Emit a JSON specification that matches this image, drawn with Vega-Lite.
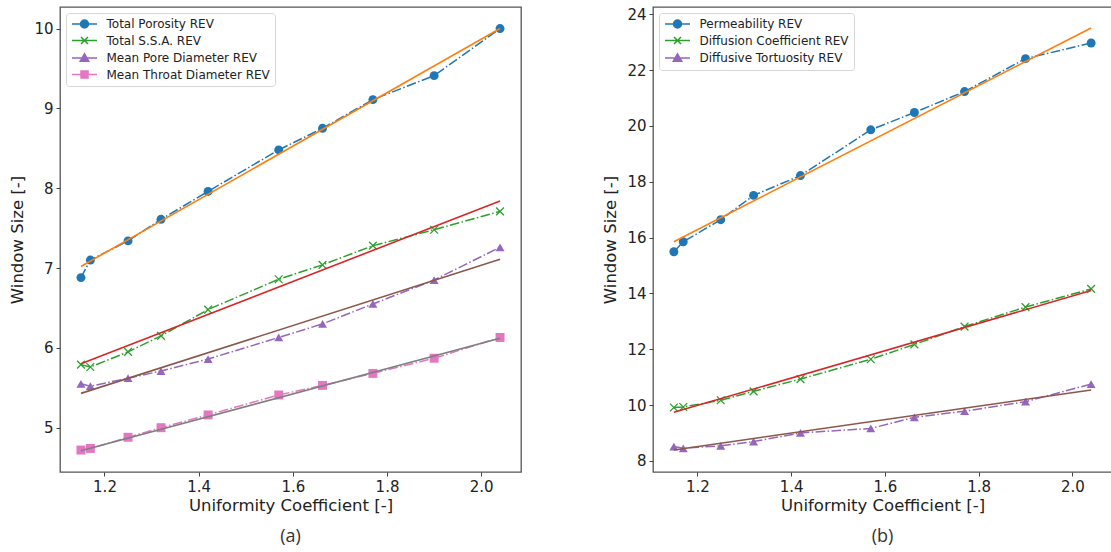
{
  "$schema": "https://vega.github.io/schema/vega-lite/v6.json",
  "background": "white",
  "padding": {"left": 9, "top": 6, "right": 0, "bottom": 0},
  "spacing": 80,
  "resolve": {"scale": {"color": "independent", "shape": "independent", "stroke": "independent"}, "legend": {"color": "independent"}},
  "datasets": {
    "pa": [
      {"series": "Total Porosity REV", "x": 1.15, "y": 6.88},
      {"series": "Total Porosity REV", "x": 1.17, "y": 7.10},
      {"series": "Total Porosity REV", "x": 1.25, "y": 7.34},
      {"series": "Total Porosity REV", "x": 1.32, "y": 7.61},
      {"series": "Total Porosity REV", "x": 1.42, "y": 7.96},
      {"series": "Total Porosity REV", "x": 1.57, "y": 8.48},
      {"series": "Total Porosity REV", "x": 1.663, "y": 8.75},
      {"series": "Total Porosity REV", "x": 1.77, "y": 9.11},
      {"series": "Total Porosity REV", "x": 1.90, "y": 9.41},
      {"series": "Total Porosity REV", "x": 2.04, "y": 10.0},
      {"series": "Total S.S.A. REV", "x": 1.15, "y": 5.79},
      {"series": "Total S.S.A. REV", "x": 1.17, "y": 5.76},
      {"series": "Total S.S.A. REV", "x": 1.25, "y": 5.95},
      {"series": "Total S.S.A. REV", "x": 1.32, "y": 6.15},
      {"series": "Total S.S.A. REV", "x": 1.42, "y": 6.48},
      {"series": "Total S.S.A. REV", "x": 1.57, "y": 6.86},
      {"series": "Total S.S.A. REV", "x": 1.663, "y": 7.04},
      {"series": "Total S.S.A. REV", "x": 1.77, "y": 7.28},
      {"series": "Total S.S.A. REV", "x": 1.90, "y": 7.48},
      {"series": "Total S.S.A. REV", "x": 2.04, "y": 7.71},
      {"series": "Mean Pore Diameter REV", "x": 1.15, "y": 5.55},
      {"series": "Mean Pore Diameter REV", "x": 1.17, "y": 5.52},
      {"series": "Mean Pore Diameter REV", "x": 1.25, "y": 5.62},
      {"series": "Mean Pore Diameter REV", "x": 1.32, "y": 5.71},
      {"series": "Mean Pore Diameter REV", "x": 1.42, "y": 5.86},
      {"series": "Mean Pore Diameter REV", "x": 1.57, "y": 6.13},
      {"series": "Mean Pore Diameter REV", "x": 1.663, "y": 6.30},
      {"series": "Mean Pore Diameter REV", "x": 1.77, "y": 6.55},
      {"series": "Mean Pore Diameter REV", "x": 1.90, "y": 6.85},
      {"series": "Mean Pore Diameter REV", "x": 2.04, "y": 7.26},
      {"series": "Mean Throat Diameter REV", "x": 1.15, "y": 4.72},
      {"series": "Mean Throat Diameter REV", "x": 1.17, "y": 4.74},
      {"series": "Mean Throat Diameter REV", "x": 1.25, "y": 4.88},
      {"series": "Mean Throat Diameter REV", "x": 1.32, "y": 5.00},
      {"series": "Mean Throat Diameter REV", "x": 1.42, "y": 5.16},
      {"series": "Mean Throat Diameter REV", "x": 1.57, "y": 5.41},
      {"series": "Mean Throat Diameter REV", "x": 1.663, "y": 5.53},
      {"series": "Mean Throat Diameter REV", "x": 1.77, "y": 5.68},
      {"series": "Mean Throat Diameter REV", "x": 1.90, "y": 5.87},
      {"series": "Mean Throat Diameter REV", "x": 2.04, "y": 6.13}
    ],
    "fa": [
      {"fit": "porosity fit", "x": 1.15, "y": 7.02},
      {"fit": "porosity fit", "x": 2.04, "y": 10.0},
      {"fit": "ssa fit", "x": 1.15, "y": 5.80},
      {"fit": "ssa fit", "x": 2.04, "y": 7.84},
      {"fit": "pore fit", "x": 1.15, "y": 5.43},
      {"fit": "pore fit", "x": 2.04, "y": 7.11},
      {"fit": "throat fit", "x": 1.15, "y": 4.71},
      {"fit": "throat fit", "x": 2.04, "y": 6.12}
    ],
    "pb": [
      {"series": "Permeability REV", "x": 1.15, "y": 15.49},
      {"series": "Permeability REV", "x": 1.17, "y": 15.85},
      {"series": "Permeability REV", "x": 1.25, "y": 16.64},
      {"series": "Permeability REV", "x": 1.32, "y": 17.51},
      {"series": "Permeability REV", "x": 1.42, "y": 18.22},
      {"series": "Permeability REV", "x": 1.57, "y": 19.86},
      {"series": "Permeability REV", "x": 1.663, "y": 20.48},
      {"series": "Permeability REV", "x": 1.77, "y": 21.23},
      {"series": "Permeability REV", "x": 1.90, "y": 22.41},
      {"series": "Permeability REV", "x": 2.04, "y": 22.97},
      {"series": "Diffusion Coefficient REV", "x": 1.15, "y": 9.91},
      {"series": "Diffusion Coefficient REV", "x": 1.17, "y": 9.93},
      {"series": "Diffusion Coefficient REV", "x": 1.25, "y": 10.17},
      {"series": "Diffusion Coefficient REV", "x": 1.32, "y": 10.49},
      {"series": "Diffusion Coefficient REV", "x": 1.42, "y": 10.93},
      {"series": "Diffusion Coefficient REV", "x": 1.57, "y": 11.64},
      {"series": "Diffusion Coefficient REV", "x": 1.663, "y": 12.17},
      {"series": "Diffusion Coefficient REV", "x": 1.77, "y": 12.81},
      {"series": "Diffusion Coefficient REV", "x": 1.90, "y": 13.51},
      {"series": "Diffusion Coefficient REV", "x": 2.04, "y": 14.16},
      {"series": "Diffusive Tortuosity REV", "x": 1.15, "y": 8.51},
      {"series": "Diffusive Tortuosity REV", "x": 1.17, "y": 8.45},
      {"series": "Diffusive Tortuosity REV", "x": 1.25, "y": 8.54},
      {"series": "Diffusive Tortuosity REV", "x": 1.32, "y": 8.69},
      {"series": "Diffusive Tortuosity REV", "x": 1.42, "y": 9.00},
      {"series": "Diffusive Tortuosity REV", "x": 1.57, "y": 9.16},
      {"series": "Diffusive Tortuosity REV", "x": 1.663, "y": 9.56},
      {"series": "Diffusive Tortuosity REV", "x": 1.77, "y": 9.78},
      {"series": "Diffusive Tortuosity REV", "x": 1.90, "y": 10.12},
      {"series": "Diffusive Tortuosity REV", "x": 2.04, "y": 10.75}
    ],
    "fb": [
      {"fit": "permeability fit", "x": 1.15, "y": 15.85},
      {"fit": "permeability fit", "x": 2.04, "y": 23.51},
      {"fit": "diffusion fit", "x": 1.15, "y": 9.74},
      {"fit": "diffusion fit", "x": 2.04, "y": 14.10},
      {"fit": "tortuosity fit", "x": 1.15, "y": 8.39},
      {"fit": "tortuosity fit", "x": 2.04, "y": 10.54}
    ]
  },
  "config": {
    "view": {"stroke": "#555", "strokeWidth": 1.3},
    "axis": {
      "domain": false, "grid": false, "tickSize": 4, "tickColor": "#444", "tickWidth": 1,
      "labelFont": "DejaVu Sans", "labelFontSize": 15, "labelColor": "#222", "labelPadding": 3,
      "titleFont": "DejaVu Sans", "titleFontSize": 16.5, "titleFontWeight": "normal", "titleColor": "#222"
    },
    "axisX": {"titlePadding": 3},
    "axisY": {"titlePadding": 8},
    "legend": {
      "orient": "top-left", "offset": 6, "padding": 5, "fillColor": "rgba(255,255,255,0.85)",
      "strokeColor": "#d6d6d6", "cornerRadius": 3, "symbolSize": 100, "labelOffset": 23.5,
      "labelFont": "DejaVu Sans", "labelFontSize": 12, "labelColor": "#222", "labelLimit": 0, "rowPadding": 2.5
    },
    "title": {"font": "Open Sans", "fontSize": 18, "fontWeight": "normal", "color": "#333", "offset": 14, "anchor": "middle"}
  },
  "hconcat": [
    {
      "width": 461, "height": 465,
      "title": {"text": "(a)", "orient": "bottom"},
      "encoding": {
        "x": {"field": "x", "type": "quantitative", "scale": {"domain": [1.1055, 2.0845], "nice": false, "zero": false},
              "axis": {"title": "Uniformity Coefficient [-]", "values": [1.2, 1.4, 1.6, 1.8, 2.0], "format": ".1f"}},
        "y": {"field": "y", "type": "quantitative", "scale": {"domain": [4.445, 10.27], "nice": false, "zero": false},
              "axis": {"title": "Window Size [-]", "values": [5, 6, 7, 8, 9, 10], "format": "d"}},
        "color": {"field": "series", "type": "nominal",
                  "scale": {"domain": ["Total Porosity REV", "Total S.S.A. REV", "Mean Pore Diameter REV", "Mean Throat Diameter REV"], "range": ["#1f77b4", "#2ca02c", "#9467bd", "#e377c2"]},
                  "legend": {
                    "title": null,
                    "encode": {"symbols": {"update": {
                      "shape": {"signal": "datum.value === 'Total Porosity REV' ? 'M-1,0H4M0.7,0A0.8,0.8 0 1,1 2.3,0A0.8,0.8 0 1,1 0.7,0Z' : datum.value === 'Total S.S.A. REV' ? 'M-1,0H4M0.8,-0.7L2.2,0.7M0.8,0.7L2.2,-0.7' : datum.value === 'Mean Pore Diameter REV' ? 'M-1,0H4M1.5,-0.85L2.35,0.65L0.65,0.65Z' : 'M-1,0H4M0.8,-0.7H2.2V0.7H0.8Z'"},
                      "fill": {"signal": "datum.value === 'Total Porosity REV' ? '#1f77b4' : datum.value === 'Total S.S.A. REV' ? '#2ca02c' : datum.value === 'Mean Pore Diameter REV' ? '#9467bd' : '#e377c2'"},
                      "stroke": {"signal": "datum.value === 'Total Porosity REV' ? '#1f77b4' : datum.value === 'Total S.S.A. REV' ? '#2ca02c' : datum.value === 'Mean Pore Diameter REV' ? '#9467bd' : '#e377c2'"},
                      "strokeWidth": {"value": 1.5},
                      "strokeDash": {"value": []},
                      "opacity": {"value": 1},
                      "fillOpacity": {"value": 1},
                      "strokeOpacity": {"value": 1}
                    }}}
                  }}
      },
      "layer": [
        {
          "data": {"name": "pa"},
          "mark": {"type": "line", "strokeDash": [9.6, 2.4, 1.5, 2.4], "strokeWidth": 1.5}
        },
        {
          "data": {"name": "pa"},
          "transform": [{"filter": "datum.series !== 'Total S.S.A. REV'"}],
          "mark": {"type": "point", "filled": true, "opacity": 1, "size": 80},
          "encoding": {
            "shape": {"field": "series", "type": "nominal",
                      "scale": {"domain": ["Total Porosity REV", "Mean Pore Diameter REV", "Mean Throat Diameter REV"], "range": ["circle", "triangle-up", "square"]},
                      "legend": null}
          }
        },
        {
          "data": {"name": "pa"},
          "transform": [{"filter": "datum.series === 'Total S.S.A. REV'"}],
          "mark": {"type": "point", "filled": false, "opacity": 1, "size": 60, "strokeWidth": 1.3, "shape": "M-1,-1L1,1M-1,1L1,-1"}
        },
        {
          "data": {"name": "fa"},
          "mark": {"type": "line", "strokeWidth": 1.6},
          "encoding": {
            "color": null,
            "stroke": {"field": "fit", "type": "nominal",
                       "scale": {"domain": ["porosity fit", "ssa fit", "pore fit", "throat fit"], "range": ["#ff7f0e", "#d62728", "#8c564b", "#7f7f7f"]},
                       "legend": null}
          }
        }
      ]
    },
    {
      "width": 459, "height": 465,
      "title": {"text": "(b)", "orient": "bottom"},
      "encoding": {
        "x": {"field": "x", "type": "quantitative", "scale": {"domain": [1.1055, 2.0845], "nice": false, "zero": false},
              "axis": {"title": "Uniformity Coefficient [-]", "values": [1.2, 1.4, 1.6, 1.8, 2.0], "format": ".1f"}},
        "y": {"field": "y", "type": "quantitative", "scale": {"domain": [7.6, 24.26], "nice": false, "zero": false},
              "axis": {"title": "Window Size [-]", "values": [8, 10, 12, 14, 16, 18, 20, 22, 24], "format": "d"}},
        "color": {"field": "series", "type": "nominal",
                  "scale": {"domain": ["Permeability REV", "Diffusion Coefficient REV", "Diffusive Tortuosity REV"], "range": ["#1f77b4", "#2ca02c", "#9467bd"]},
                  "legend": {
                    "title": null,
                    "encode": {"symbols": {"update": {
                      "shape": {"signal": "datum.value === 'Permeability REV' ? 'M-1,0H4M0.7,0A0.8,0.8 0 1,1 2.3,0A0.8,0.8 0 1,1 0.7,0Z' : datum.value === 'Diffusion Coefficient REV' ? 'M-1,0H4M0.8,-0.7L2.2,0.7M0.8,0.7L2.2,-0.7' : 'M-1,0H4M1.5,-0.85L2.35,0.65L0.65,0.65Z'"},
                      "fill": {"signal": "datum.value === 'Permeability REV' ? '#1f77b4' : datum.value === 'Diffusion Coefficient REV' ? '#2ca02c' : '#9467bd'"},
                      "stroke": {"signal": "datum.value === 'Permeability REV' ? '#1f77b4' : datum.value === 'Diffusion Coefficient REV' ? '#2ca02c' : '#9467bd'"},
                      "strokeWidth": {"value": 1.5},
                      "strokeDash": {"value": []},
                      "opacity": {"value": 1},
                      "fillOpacity": {"value": 1},
                      "strokeOpacity": {"value": 1}
                    }}}
                  }}
      },
      "layer": [
        {
          "data": {"name": "pb"},
          "mark": {"type": "line", "strokeDash": [9.6, 2.4, 1.5, 2.4], "strokeWidth": 1.5}
        },
        {
          "data": {"name": "pb"},
          "transform": [{"filter": "datum.series !== 'Diffusion Coefficient REV'"}],
          "mark": {"type": "point", "filled": true, "opacity": 1, "size": 80},
          "encoding": {
            "shape": {"field": "series", "type": "nominal",
                      "scale": {"domain": ["Permeability REV", "Diffusive Tortuosity REV"], "range": ["circle", "triangle-up"]},
                      "legend": null}
          }
        },
        {
          "data": {"name": "pb"},
          "transform": [{"filter": "datum.series === 'Diffusion Coefficient REV'"}],
          "mark": {"type": "point", "filled": false, "opacity": 1, "size": 60, "strokeWidth": 1.3, "shape": "M-1,-1L1,1M-1,1L1,-1"}
        },
        {
          "data": {"name": "fb"},
          "mark": {"type": "line", "strokeWidth": 1.6},
          "encoding": {
            "color": null,
            "stroke": {"field": "fit", "type": "nominal",
                       "scale": {"domain": ["permeability fit", "diffusion fit", "tortuosity fit"], "range": ["#ff7f0e", "#d62728", "#8c564b"]},
                       "legend": null}
          }
        }
      ]
    }
  ]
}
